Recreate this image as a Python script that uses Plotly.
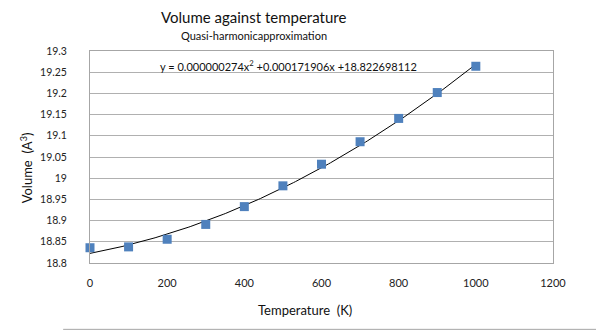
import plotly.graph_objects as go
import numpy as np

temperature = [0, 100, 200, 300, 400, 500, 600, 700, 800, 900, 1000]
volume = [18.836, 18.838, 18.856, 18.891, 18.933, 18.982, 19.033, 19.086, 19.141, 19.202, 19.264]

# trendline coefficients (as printed on the chart)
coef_a = 0.000000274
coef_b = 0.000171906
coef_c = 18.822698112

x_ticks = [0, 200, 400, 600, 800, 1000, 1200]
y_ticks = [18.8, 18.85, 18.9, 18.95, 19.0, 19.05, 19.1, 19.15, 19.2, 19.25, 19.3]
y_tick_labels = ["18.8", "18.85", "18.9", "18.95", "19", "19.05", "19.1", "19.15", "19.2", "19.25", "19.3"]

xt = np.linspace(min(temperature), max(temperature), 200)
yt = coef_a * xt**2 + coef_b * xt + coef_c

FONT = "Lato"
fig = go.Figure()
fig.add_trace(go.Scatter(x=xt, y=yt, mode="lines",
                         line=dict(color="black", width=1), showlegend=False))
fig.add_trace(go.Scatter(x=temperature, y=volume, mode="markers", cliponaxis=False,
                         marker=dict(symbol="square", size=9, color="#4F81BD"),
                         showlegend=False))

def ann(text, x, y, size, **kw):
    return dict(text=text, x=x, y=y, xref="paper", yref="paper", showarrow=False,
                xanchor="center", yanchor="middle", font=dict(size=size, color="#111"), **kw)

fig.update_layout(
    width=596, height=330,
    margin=dict(l=90, r=43, t=51, b=67),
    paper_bgcolor="white", plot_bgcolor="white",
    font=dict(family=FONT, size=11, color="#222"),
    xaxis=dict(range=[0, 1200], tickvals=x_ticks, showgrid=False, zeroline=False,
               showline=True, linecolor="#a6a6a6", mirror=True, ticks="",
               ticklabelstandoff=10, tickfont=dict(size=11)),
    yaxis=dict(range=[18.8, 19.3], tickvals=y_ticks, ticktext=y_tick_labels,
               showgrid=True, gridcolor="#b0b0b0", zeroline=False,
               showline=True, linecolor="#a6a6a6", mirror=True, ticks="",
               ticklabelstandoff=20, tickfont=dict(size=10.5)),
    annotations=[
        ann("Volume against temperature", 0.354, 1.159, 15),
        ann("Quasi-harmonicapproximation", 0.354, 1.074, 11),
        ann("y = 0.000000274x<sup>2</sup> +0.000171906x +18.822698112", 0.429, 0.93, 11),
        ann("Temperature  (K)", 0.464, -0.223, 13),
        ann("Volume  (A<sup>3</sup>)", -0.138, 0.447, 13, textangle=-90),
    ],
    shapes=[dict(type="line", xref="paper", yref="paper", x0=-0.058, x1=1.1,
                 y0=-0.313, y1=-0.313, line=dict(color="#a6a6a6", width=1))],
)

fig.write_html("out.html")
